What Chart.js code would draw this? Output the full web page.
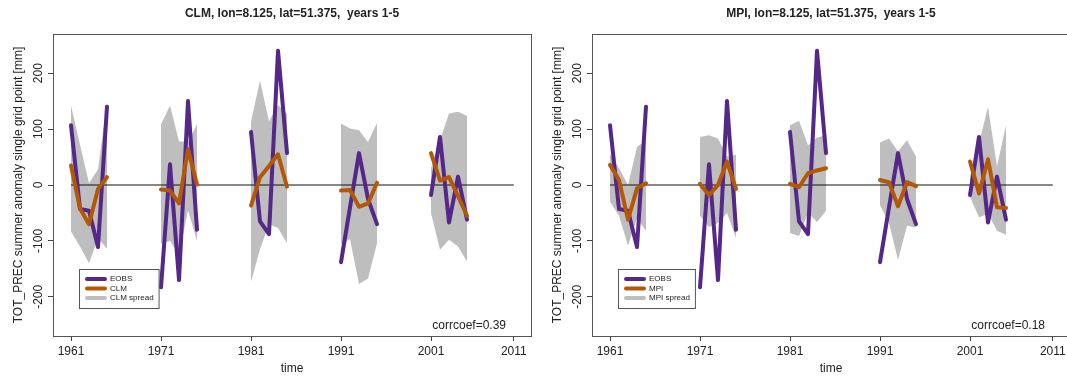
<!DOCTYPE html>
<html>
<head>
<meta charset="utf-8">
<script src="https://cdn.jsdelivr.net/npm/chart.js@4.4.0/dist/chart.umd.min.js"></script>
<style>
  html, body { margin: 0; padding: 0; background: #fff; overflow: hidden; width: 1067px; height: 378px; }
  .panel { position: absolute; top: 0; width: 533px; height: 378px; }
</style>
</head>
<body>
<div class="panel" style="left:0"><canvas id="clm"></canvas></div>
<div class="panel" style="left:539px"><canvas id="mpi"></canvas></div>
<script>
// ─── data (summer precip anomaly, mm) ────────────────────────────────────────
const GROUP_START = [1961, 1971, 1981, 1991, 2001];
const YEARS_PER_GROUP = 5;

const EOBS   = [107, -43, -46, -111, 140,   -183, 37, -170, 150, -80,   95, -65, -88, 240, 57,   -138, -40, 57, -25, -70,   -18, 86, -67, 15, -62];

const CLM    = [35, -42, -70, -7, 14,   -8, -10, -33, 64, 1,   -37, 14, 34, 55, -3,   -10, -9, -39, -33, 4,   57, 8, 14, -20, -55];
const CLM_HI = [142, 72, 3, 28, 147,   108, 142, 78, 78, 108,   113, 187, 114, 143, 128,   110, 101, 98, 77, 111,   30, 80, 128, 131, 124];
const CLM_LO = [-83, -110, -140, -95, -114,   -105, -100, -125, -45, -100,   -173, -115, -70, -77, -104,   -105, -97, -177, -167, -104,   -50, -116, -98, -110, -137];

const MPI    = [36, 9, -62, -6, 3,   2, -18, 0, 42, -7,   2, -4, 21, 26, 30,   9, 5, -38, 5, -2,   42, -15, 46, -40, -41];
const MPI_HI = [55, 30, 0, 68, 80,   86, 89, 83, 51, 54,   107, 115, 71, 85, 89,   76, 83, 60, 80, 51,   15, 74, 140, 33, 107];
const MPI_LO = [-30, -55, -108, -60, -82,   -55, -75, -68, -50, -95,   -86, -91, -50, -66, -46,   -36, -68, -134, -73, -76,   -21, -58, -51, -82, -89];

const X_TICKS       = [1961, 1971, 1981, 1991, 2001, 2010.2];
const X_TICK_LABELS = ['1961', '1971', '1981', '1991', '2001', '2011'];
const Y_TICKS       = [-200, -100, 0, 100, 200];
const ZERO_LINE_X   = [1961, 2010.2];

const COLORS = {
  obs:    '#542788',
  model:  '#b35806',
  spread: '#bebebe',
  zero:   '#111',
  box:    '#555',
  text:   '#222',
};

Chart.defaults.font.family = '"Liberation Sans", Arial, Helvetica, sans-serif';

// values -> {x,y} with a null between the 5-year blocks so lines break
function toPoints(values) {
  const pts = [];
  GROUP_START.forEach((y0, g) => {
    for (let i = 0; i < YEARS_PER_GROUP; i++) pts.push({ x: y0 + i, y: values[g * YEARS_PER_GROUP + i] });
    if (g < GROUP_START.length - 1) pts.push({ x: y0 + YEARS_PER_GROUP, y: null });
  });
  return pts;
}

// ─── plugins ────────────────────────────────────────────────────────────────
const boxPlugin = {
  id: 'box',
  afterDraw(chart) {
    const { ctx, chartArea: a } = chart;
    ctx.save();
    ctx.strokeStyle = COLORS.box;
    ctx.lineWidth = 1;
    ctx.strokeRect(Math.round(a.left) + 0.5, Math.round(a.top) + 0.5, Math.round(a.right - a.left), Math.round(a.bottom - a.top));
    ctx.restore();
  }
};

// R-style vertical y tick labels
const yLabelPlugin = {
  id: 'yLabels',
  afterDraw(chart) {
    const { ctx, chartArea: a } = chart;
    const y = chart.scales.y;
    ctx.save();
    ctx.fillStyle = COLORS.text;
    ctx.font = '12px ' + Chart.defaults.font.family;
    ctx.textAlign = 'center';
    ctx.textBaseline = 'middle';
    Y_TICKS.forEach(v => {
      ctx.save();
      ctx.translate(a.left - 14, y.getPixelForValue(v));
      ctx.rotate(-Math.PI / 2);
      ctx.fillText(String(v), 0, 0);
      ctx.restore();
    });
    ctx.restore();
  }
};

const panelText = {
  id: 'panelText',
  afterDraw(chart, args, o) {
    const { ctx, chartArea: a } = chart;
    ctx.save();
    // legend box
    const items = o.items;
    ctx.font = '8px ' + Chart.defaults.font.family;
    const tw = Math.max(...items.map(it => ctx.measureText(it.label).width));
    const bx = a.left + 26, by = a.bottom - 67;
    const bw = 31 + tw + 5, bh = 39;
    ctx.fillStyle = '#fff';
    ctx.fillRect(bx, by, bw, bh);
    ctx.strokeStyle = COLORS.box;
    ctx.lineWidth = 1;
    ctx.strokeRect(bx + 0.5, by + 0.5, bw, bh);
    ctx.lineCap = 'round';
    items.forEach((it, i) => {
      const ry = by + 10 + i * 9.5;
      ctx.strokeStyle = it.color;
      ctx.lineWidth = 4;
      ctx.beginPath();
      ctx.moveTo(bx + 8, ry);
      ctx.lineTo(bx + 26, ry);
      ctx.stroke();
      ctx.fillStyle = COLORS.text;
      ctx.textAlign = 'left';
      ctx.textBaseline = 'middle';
      ctx.fillText(it.label, bx + 31, ry);
    });
    // correlation note
    ctx.font = '12px ' + Chart.defaults.font.family;
    ctx.textAlign = 'right';
    ctx.textBaseline = 'middle';
    ctx.fillStyle = COLORS.text;
    ctx.fillText(o.note, a.right - 25, a.bottom - 10);
    ctx.restore();
  }
};

// ─── panel factory ──────────────────────────────────────────────────────────
function buildPanel(id, model, modelVals, hi, lo, corr) {
  const axisGrid = { drawOnChartArea: false, drawTicks: true, tickLength: 5, tickColor: '#444' };
  return new Chart(document.getElementById(id), {
    type: 'line',
    data: {
      datasets: [
        { label: model, data: toPoints(modelVals), borderColor: COLORS.model, borderWidth: 4, order: 1 },
        { label: 'EOBS', data: toPoints(EOBS), borderColor: COLORS.obs, borderWidth: 4, order: 2 },
        { label: 'zero', data: ZERO_LINE_X.map(x => ({ x, y: 0 })), borderColor: COLORS.zero, borderWidth: 1, borderCapStyle: 'butt', order: 3 },
        { label: model + ' spread', data: toPoints(hi), borderWidth: 0, borderColor: 'rgba(0,0,0,0)', backgroundColor: COLORS.spread, fill: '+1', order: 4 },
        { label: 'lo', data: toPoints(lo), borderWidth: 0, borderColor: 'rgba(0,0,0,0)', fill: false, order: 5 },
      ]
    },
    options: {
      responsive: true,
      maintainAspectRatio: false,
      animation: false,
      events: [],
      layout: { padding: { left: 0, right: 2, top: 0, bottom: 0 } },
      elements: {
        point: { radius: 0 },
        line: { tension: 0, borderCapStyle: 'round', borderJoinStyle: 'round', spanGaps: false },
      },
      plugins: {
        legend: { display: false },
        tooltip: { enabled: false },
        title: {
          display: true,
          fullSize: false,
          text: model + ', lon=8.125, lat=51.375,  years 1-5',
          color: COLORS.text,
          font: { size: 12, weight: 'bold', lineHeight: 1.2 },
          padding: { top: 6, bottom: 13.6 },
        },
        panelText: {
          items: [
            { label: 'EOBS', color: COLORS.obs },
            { label: model, color: COLORS.model },
            { label: model + ' spread', color: COLORS.spread },
          ],
          note: 'corrcoef=' + corr,
        },
      },
      scales: {
        x: {
          type: 'linear',
          min: 1959,
          max: 2012.11,
          grid: axisGrid,
          border: { display: false },
          afterBuildTicks: s => { s.ticks = X_TICKS.map(v => ({ value: v })); },
          afterFit: s => { s.height = 42; },
          ticks: {
            color: COLORS.text,
            font: { size: 12, lineHeight: 1.2 },
            padding: 3,
            maxRotation: 0,
            autoSkip: false,
            callback: (v, i) => X_TICK_LABELS[i],
          },
          title: { display: true, text: 'time', color: COLORS.text, font: { size: 12, lineHeight: 1.2 }, padding: { top: 0, bottom: 2.3 } },
        },
        y: {
          type: 'linear',
          min: -270,
          max: 270,
          grid: axisGrid,
          border: { display: false },
          afterBuildTicks: s => { s.ticks = Y_TICKS.map(v => ({ value: v })); },
          afterFit: s => { s.width = 53; },
          ticks: { display: false },
          title: {
            display: true,
            text: 'TOT_PREC summer anomaly single grid point [mm]',
            color: COLORS.text,
            font: { size: 12, lineHeight: 1.2 },
            padding: { top: 11.3, bottom: 0 },
          },
        },
      },
    },
    plugins: [boxPlugin, yLabelPlugin, panelText],
  });
}

buildPanel('clm', 'CLM', CLM, CLM_HI, CLM_LO, '0.39');
buildPanel('mpi', 'MPI', MPI, MPI_HI, MPI_LO, '0.18');
</script>
</body>
</html>
